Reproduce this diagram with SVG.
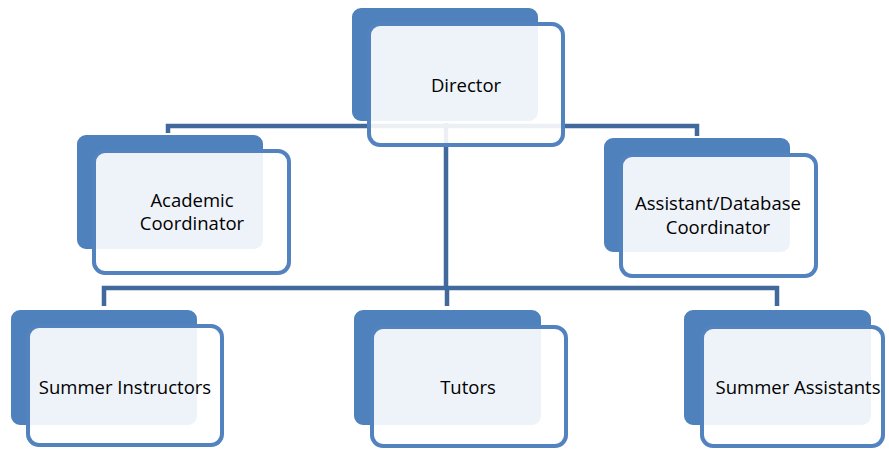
<svg xmlns="http://www.w3.org/2000/svg" width="889" height="451" viewBox="0 0 889 451">
<style>
.back{fill:#4F81BD;stroke:#ffffff;stroke-width:2}
.front{fill:#ffffff;fill-opacity:0.9;stroke:#5283BF;stroke-width:4}
.conn{fill:none;stroke:#41699B;stroke-width:4.5}
text{font-family:"Open Sans","Liberation Sans",sans-serif;font-size:18.5px;fill:#000;text-anchor:middle}
</style>
<rect width="889" height="451" fill="#ffffff"/>
<g id="connectors">
<path class="conn" d="M168,136 V126 H697 V136"/>
<path class="conn" d="M446,122 V288"/>
<path class="conn" d="M104,306 V288 H777 V306"/>
<path class="conn" d="M447,288 V306"/>
</g>
<g id="director">
<rect class="back" x="351" y="7" width="188" height="115" rx="10"/>
<rect class="front" x="369" y="24" width="194" height="121" rx="11"/>
<text x="466" y="92">Director</text>
</g>
<g id="academic">
<rect class="back" x="76" y="134" width="188" height="116" rx="10"/>
<rect class="front" x="94" y="151" width="195" height="122" rx="11"/>
<text x="192" y="207">Academic</text>
<text x="192" y="230">Coordinator</text>
</g>
<g id="assistant-db">
<rect class="back" x="603" y="137" width="188" height="116" rx="10"/>
<rect class="front" x="621" y="155" width="195" height="121" rx="11"/>
<text x="718" y="210">Assistant/Database</text>
<text x="718" y="234">Coordinator</text>
</g>
<g id="summer-instructors">
<rect class="back" x="10" y="309" width="188" height="117" rx="10"/>
<rect class="front" x="28" y="326" width="194" height="119" rx="11"/>
<text x="125" y="394">Summer Instructors</text>
</g>
<g id="tutors">
<rect class="back" x="353" y="309" width="189" height="117" rx="10"/>
<rect class="front" x="372" y="327" width="194" height="119" rx="11"/>
<text x="468" y="394">Tutors</text>
</g>
<g id="summer-assistants">
<rect class="back" x="683" y="309" width="189" height="117" rx="10"/>
<rect class="front" x="702" y="327" width="181" height="119" rx="11"/>
<text x="798" y="394">Summer Assistants</text>
</g>
</svg>
